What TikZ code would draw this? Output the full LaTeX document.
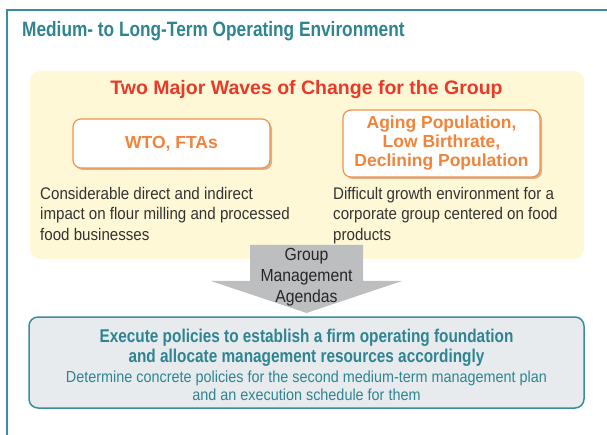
\documentclass[tikz,border=0pt]{standalone}
\usepackage{fontspec}
\setmainfont{Liberation Sans}
\newfontfamily\condfont[FakeStretch=0.9]{Liberation Sans}
\newfontfamily\narrowfont[FakeStretch=0.83]{Liberation Sans}
\usepackage{tikz}
\usetikzlibrary{positioning,shadows}
\definecolor{envteal}{HTML}{2F8491}
\definecolor{envline}{HTML}{3A8D9A}
\definecolor{wavefill}{HTML}{FFF8D6}
\definecolor{wavered}{HTML}{E83A2A}
\definecolor{waveorange}{HTML}{F2924A}
\definecolor{wavetext}{HTML}{F0843A}
\definecolor{waveshadow}{HTML}{D9B38C}
\definecolor{agendagray}{HTML}{BDBEC0}
\definecolor{policyfill}{HTML}{E7EBEE}
\definecolor{darktext}{HTML}{333333}

\begin{document}
\begin{tikzpicture}[x=1pt, y=-1pt,
    heading/.style={inner sep=0, font=\narrowfont\bfseries\fontsize{20.8}{22}\selectfont, text=envteal},
    wave/.style={rectangle, rounded corners=8pt, draw=waveorange, line width=1.2pt, fill=white,
        minimum width=197pt, minimum height=#1, align=center, text=wavetext,
        font=\bfseries\fontsize{17.5}{19}\selectfont,
        drop shadow={shadow xshift=2pt, shadow yshift=-2pt, fill=waveshadow, opacity=1}},
    impact/.style={anchor=north west, inner sep=0, align=left, text=darktext,
        font=\condfont\fontsize{16.8}{20.5}\selectfont},
    policy/.style={inner sep=0, align=center, text=envteal}
]
    \clip (0,0) rectangle (607,435);

    % Frame
    \draw[envline, line width=2pt] (7,445) -- (7,10) -- (620,10);
    \node[heading, anchor=west] (envtitle) at (22,31.5) {Medium- to Long-Term Operating Environment};

    % Waves of change
    \fill[wavefill] (30,71) [rounded corners=10pt] rectangle (584,259);
    \node[inner sep=0, text=wavered, font=\bfseries\fontsize{19.5}{22}\selectfont] (wavestitle) at (306.5,90) {Two Major Waves of Change for the Group};

    \node[wave=49pt] (wto) at (171.5,143.5) {WTO, FTAs};
    \node[wave=67pt] (aging) at (441.5,143.5) {Aging Population,\\Low Birthrate,\\Declining Population};

    \node[impact] (wtoimpact) at (40,187) {Considerable direct and indirect\\impact on flour milling and processed\\food businesses};
    \node[impact] (agingimpact) at (333,187) {Difficult growth environment for a\\corporate group centered on food\\products};

    % Agendas arrow
    \fill[agendagray] (250,245) -- (363,245) -- (363,281) -- (402,281) -- (306.5,313)
        -- (211,281) -- (250,281) -- cycle;
    \node[inner sep=0, align=center, text=black!85, font=\condfont\fontsize{17.5}{21}\selectfont] (agendas) at (306.5,277.5) {Group\\Management\\Agendas};

    % Policies
    \draw[envline, fill=policyfill, line width=1.5pt, rounded corners=9pt] (29,317) rectangle (584,408);
    \node[policy, font=\narrowfont\bfseries\fontsize{18.5}{20}\selectfont] (policyhead) at (306.5,347.5) {Execute policies to establish a firm operating foundation\\and allocate management resources accordingly};
    \node[policy, font=\condfont\fontsize{16}{18}\selectfont, below=4.5pt of policyhead] (policynote) {Determine concrete policies for the second medium-term management plan\\and an execution schedule for them};
\end{tikzpicture}
\end{document}
